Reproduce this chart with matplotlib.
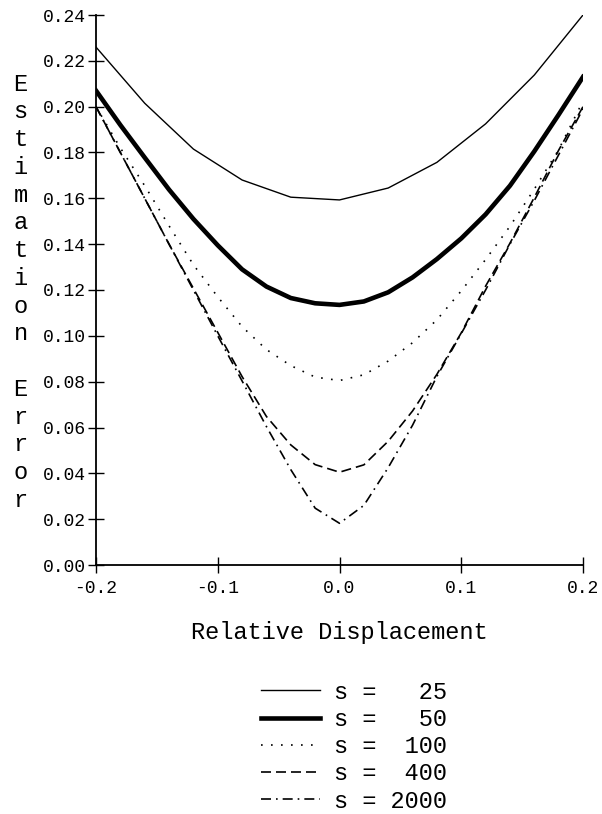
import matplotlib
matplotlib.use("Agg")
import matplotlib.pyplot as plt
import numpy as np

plt.rcParams['font.family'] = ['Liberation Mono', 'DejaVu Sans Mono']
plt.rcParams['axes.unicode_minus'] = False

# s = 25 (coarse grid)
x25 = [-0.20, -0.16, -0.12, -0.08, -0.04, 0.00, 0.04, 0.08, 0.12, 0.16, 0.20]
e25 = [0.226, 0.2015, 0.1815, 0.168, 0.1605, 0.1593, 0.1645, 0.1757, 0.1925, 0.2138, 0.240]

# other curves on a 0.02 grid
xg = [-0.20, -0.18, -0.16, -0.14, -0.12, -0.10, -0.08, -0.06, -0.04, -0.02, 0.00,
      0.02, 0.04, 0.06, 0.08, 0.10, 0.12, 0.14, 0.16, 0.18, 0.20]
e50 = [0.207, 0.192, 0.1778, 0.1638, 0.151, 0.1395, 0.129, 0.1215, 0.1165, 0.1142, 0.1135,
       0.115, 0.119, 0.1255, 0.1335, 0.1425, 0.153, 0.1655, 0.1805, 0.1965, 0.213]
e100 = [0.200, 0.182, 0.1655, 0.148, 0.131, 0.117, 0.104, 0.094, 0.087, 0.082, 0.0805,
        0.083, 0.089, 0.097, 0.107, 0.1196, 0.1333, 0.1478, 0.164, 0.1812, 0.2025]
e400 = [0.200, 0.180, 0.160, 0.140, 0.1207, 0.1015, 0.0822, 0.0648, 0.0524, 0.0438, 0.0405,
        0.0437, 0.054, 0.0672, 0.0832, 0.1013, 0.1217, 0.1404, 0.1604, 0.181, 0.200]
e2000 = [0.200, 0.180, 0.160, 0.140, 0.120, 0.100, 0.0803, 0.0604, 0.0416, 0.0248, 0.0182,
         0.026, 0.0425, 0.061, 0.0823, 0.101, 0.120, 0.140, 0.159, 0.179, 0.199]

labels = ["s = %4d" % s for s in [25, 50, 100, 400, 2000]]

fig = plt.figure(figsize=(6.02, 8.14), dpi=100)
ax = fig.add_axes([96/602, 1-565/814, 487/602, 550/814])

ax.plot(x25, e25, color='k', lw=1.0, label=labels[0])
ax.plot(xg, e50, color='k', lw=3.3, label=labels[1])
ax.plot(xg, e100, color='k', lw=1.2, ls=(0, (1, 5)), label=labels[2])
ax.plot(xg, e400, color='k', lw=1.2, ls=(0, (6, 3)), label=labels[3])
ax.plot(xg, e2000, color='k', lw=1.2, ls=(0, (6, 3, 1, 3)), label=labels[4])

ax.set_xlim(-0.2, 0.2)
ax.set_ylim(0, 0.24)
ax.set_xticks([-0.2, -0.1, 0.0, 0.1, 0.2])
ax.set_xticklabels(["-0.2", "-0.1", "0.0", "0.1", "0.2"])
ax.set_yticks(np.arange(0, 0.241, 0.02))
ax.set_yticklabels(["%.2f" % v for v in np.arange(0, 0.241, 0.02)])
ax.tick_params(direction='inout', length=11, width=1.0, labelsize=13, pad=1.5)
ax.tick_params(axis='x', pad=5)
for side in ['top', 'right']:
    ax.spines[side].set_visible(False)
for side in ['left', 'bottom']:
    ax.spines[side].set_linewidth(1.3)

fig.text(339.5/602, 1-633/814, "Relative Displacement", ha='center', va='center', fontsize=17)

# stacked vertical y label
ylab = "Estimation Error"
for i, ch in enumerate(ylab):
    fig.text(20.5/602, 1-(90.7+27.75*i)/814, ch, ha='center', va='baseline', fontsize=17)

fig.legend(loc='center', bbox_to_anchor=(354/602, 1-746.7/814), frameon=False,
           fontsize=17, handlelength=2.5, handletextpad=0.6, labelspacing=0.18,
           borderpad=0)

fig.savefig("out.png", dpi=100)
